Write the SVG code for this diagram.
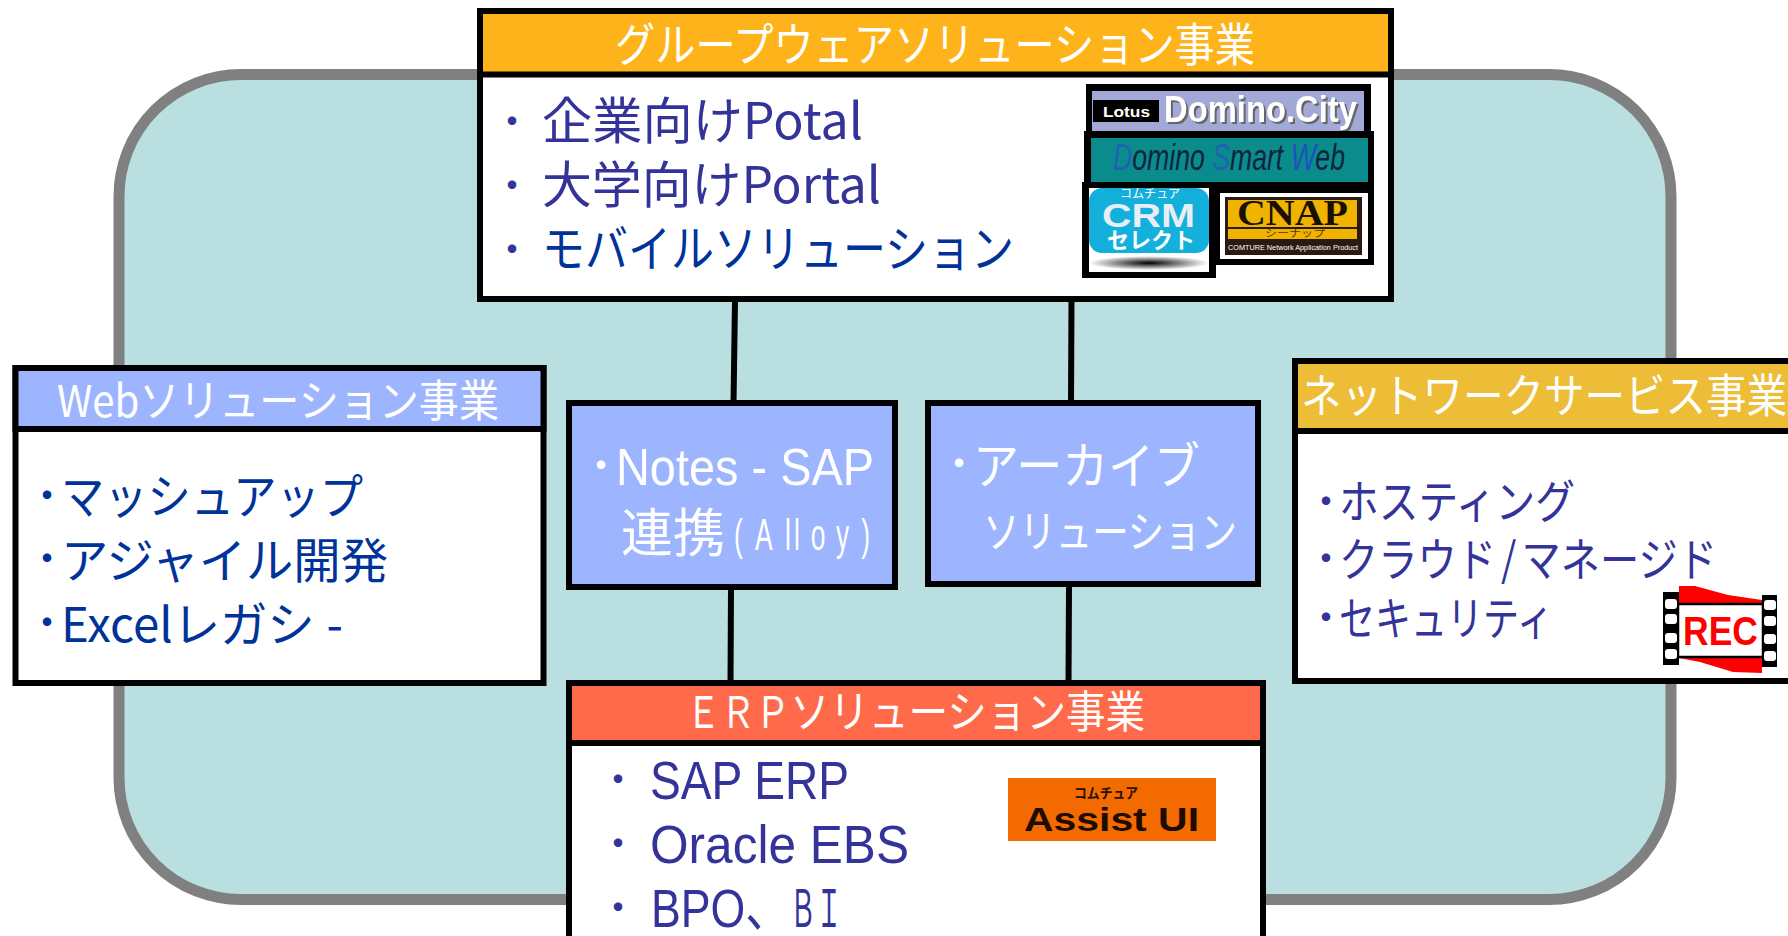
<svg xmlns="http://www.w3.org/2000/svg" width="1788" height="936" viewBox="0 0 1788 936">
<style>
text{font-family:"Noto Sans CJK JP","Liberation Sans",sans-serif}
.lat{font-family:"Liberation Sans","Noto Sans CJK JP",sans-serif}
.box{stroke:#000;stroke-width:6}
.body{fill:#fff}
.wt{fill:#fff}
.h{font-size:46px;fill:#fff}
.l1{font-size:50px;fill:#333399}
.l2{font-size:48px;fill:#003399}
.l3{font-size:46px;fill:#333399}
.bu{text-anchor:middle;font-size:40px}
.lb{font-weight:700}
.conn{stroke:#000;stroke-width:6;fill:none}
</style>
<defs>
<radialGradient id="sh"><stop offset="0" stop-color="#000"/><stop offset="1" stop-color="#fff"/></radialGradient>
</defs>
<rect id="background" x="119" y="74.500" width="1552" height="825" rx="122" ry="122" fill="#B9DFE1" stroke="#808080" stroke-width="11"/>
<g id="connectors">
<path class="conn" d="M735 300L733.500 404"/>
<path class="conn" d="M1071.500 300L1071 404"/>
<path class="conn" d="M731 588L730.500 684"/>
<path class="conn" d="M1069 585L1068.500 684"/>
</g>
<g id="groupware">
<rect class="box body" x="480" y="11" width="911" height="288"/>
<rect class="box" x="480" y="11" width="911" height="63.500" fill="#FFB31A"/>
<text class="h" x="615" y="61" textLength="640" lengthAdjust="spacingAndGlyphs">グループウェアソリューション事業</text>
<text class="bu l1" x="512" y="136" style="font-size:40px">・</text>
<text class="bu l1" x="512" y="200" style="font-size:40px">・</text>
<text class="bu l1" x="512" y="264" style="font-size:40px">・</text>
<text class="l1" x="542" y="139" textLength="321" lengthAdjust="spacingAndGlyphs">企業向けPotal</text>
<text class="l1" x="542" y="203" textLength="339" lengthAdjust="spacingAndGlyphs">大学向けPortal</text>
<text class="l1" x="542" y="267" textLength="472" lengthAdjust="spacingAndGlyphs" style="fill:#003399">モバイルソリューション</text>
<rect x="1086" y="84" width="285" height="50" fill="#000"/>
<rect x="1092" y="91" width="272" height="40" fill="#A3A9D6"/>
<rect x="1093" y="100" width="66" height="22" fill="#000"/>
<text class="lat lb wt" x="1103" y="117" font-size="15" textLength="47" lengthAdjust="spacingAndGlyphs">Lotus</text>
<text class="lat lb wt" x="1164" y="122" font-size="36" textLength="193" lengthAdjust="spacingAndGlyphs" style="filter:drop-shadow(2px 2px 0 #666)">Domino.City</text>
<rect x="1084" y="131" width="290" height="58" fill="#000"/>
<rect x="1091" y="138" width="277" height="44" fill="#0A8C8C"/>
<text class="lat" x="1113" y="170" font-size="36" font-style="italic" fill="#0E2440" textLength="232" lengthAdjust="spacingAndGlyphs"><tspan fill="#1F62B4">D</tspan>omino <tspan fill="#1F62B4">S</tspan>mart <tspan fill="#1F50C0">W</tspan>eb</text>
<rect x="1200" y="182" width="174" height="83" fill="#000"/>
<rect x="1220" y="193" width="148" height="66" fill="#fff"/>
<rect x="1225" y="197" width="137" height="58" fill="#2A1A10"/>
<rect x="1228" y="200" width="129" height="27" fill="#F0B400"/>
<rect x="1228" y="229" width="129" height="10" fill="#F0B400"/>
<text x="1237" y="225" font-size="36" font-weight="700" fill="#1A1000" textLength="111" lengthAdjust="spacingAndGlyphs" style="font-family:'Liberation Serif',serif">CNAP</text>
<text x="1265" y="237" font-size="10" fill="#5A3A00" textLength="60" lengthAdjust="spacingAndGlyphs">シーナップ</text>
<text class="lat wt" x="1228" y="250" font-size="8" textLength="130" lengthAdjust="spacingAndGlyphs">COMTURE Network Application Product</text>
<rect x="1082" y="182" width="134" height="96" fill="#000"/>
<rect x="1089" y="188" width="120" height="84" fill="#fff"/>
<rect x="1089" y="188" width="120" height="65" rx="13" fill="#14B0DC"/>
<text class="wt" x="1120" y="198" font-size="12" textLength="60" lengthAdjust="spacingAndGlyphs">コムチュア</text>
<text class="lat lb" x="1102" y="227" font-size="34" fill="#E8EEF4" textLength="93" lengthAdjust="spacingAndGlyphs">CRM</text>
<text class="lb wt" x="1107" y="248" font-size="22" textLength="88" lengthAdjust="spacingAndGlyphs">セレクト</text>
<ellipse cx="1149" cy="263" rx="60" ry="7" fill="url(#sh)"/>
</g>
<g id="web">
<rect class="box body" x="15.500" y="368" width="528" height="315"/>
<rect class="box" x="15.500" y="368" width="528" height="61" fill="#9DB5FF"/>
<text class="h" x="57" y="417" textLength="442" lengthAdjust="spacingAndGlyphs" style="font-size:44px">Webソリューション事業</text>
<text class="bu l2" x="47" y="510">・</text>
<text class="bu l2" x="47" y="573">・</text>
<text class="bu l2" x="47" y="637">・</text>
<text class="l2" x="61" y="514" textLength="302" lengthAdjust="spacingAndGlyphs">マッシュアップ</text>
<text class="l2" x="61" y="578" textLength="327" lengthAdjust="spacingAndGlyphs">アジャイル開発</text>
<text class="l2" x="61" y="642" textLength="282" lengthAdjust="spacingAndGlyphs">Excelレガシ<tspan dx="12">-</tspan></text>
</g>
<g id="notes-sap">
<rect class="box" x="569" y="403" width="326" height="184" fill="#9DB5FF"/>
<text class="bu wt" x="601" y="480">・</text>
<text class="lat wt" x="616" y="485" font-size="52" textLength="258" lengthAdjust="spacingAndGlyphs">Notes - SAP</text>
<text class="wt" x="621" y="552" font-size="52" textLength="104" lengthAdjust="spacingAndGlyphs">連携</text>
<text class="lat wt" transform="translate(734 550) scale(.6 1)" x="0 35 85 100 128 170 212" y="0" font-size="44">(Alloy)</text>
</g>
<g id="archive">
<rect class="box" x="928" y="403" width="330" height="181" fill="#9DB5FF"/>
<text class="bu wt" x="959" y="478">・</text>
<text class="wt" x="973" y="484" font-size="50" textLength="227" lengthAdjust="spacingAndGlyphs">アーカイブ</text>
<text class="wt" x="983" y="548" font-size="44" textLength="254" lengthAdjust="spacingAndGlyphs">ソリューション</text>
</g>
<g id="network">
<rect class="box body" x="1295" y="361" width="520" height="320"/>
<rect class="box" x="1295" y="361" width="520" height="70" fill="#EDBD38"/>
<text class="h" x="1301" y="412" textLength="486" lengthAdjust="spacingAndGlyphs">ネットワークサービス事業</text>
<text class="bu l3" x="1326" y="516">・</text>
<text class="bu l3" x="1326" y="573">・</text>
<text class="bu l3" x="1326" y="632">・</text>
<text class="l3" x="1339" y="518" textLength="236" lengthAdjust="spacingAndGlyphs">ホスティング</text>
<text class="l3" x="1339" y="576" textLength="378" lengthAdjust="spacingAndGlyphs">クラウド<tspan dx="6">/</tspan><tspan dx="6">マネージド</tspan></text>
<text class="l3" x="1339" y="635" textLength="214" lengthAdjust="spacingAndGlyphs">セキュリティ</text>
<path d="M1679 586H1695L1728 595L1762 600V606H1679Z" fill="#f00"/>
<path d="M1679 658L1700 662L1733 672L1762 673V657H1679Z" fill="#f00"/>
<rect x="1663" y="592" width="16" height="73" fill="#000"/>
<rect x="1762" y="595" width="15" height="72" fill="#000"/>
<rect x="1678" y="604" width="85" height="53" fill="#fff" stroke="#000" stroke-width="2.500"/>
<g fill="#fff">
<rect x="1665" y="599" width="12" height="10" rx="3"/><rect x="1665" y="614" width="12" height="10" rx="3"/><rect x="1665" y="633" width="12" height="10" rx="3"/><rect x="1665" y="649" width="12" height="10" rx="3"/>
<rect x="1764" y="600" width="12" height="10" rx="3"/><rect x="1764" y="616" width="12" height="10" rx="3"/><rect x="1764" y="634" width="12" height="10" rx="3"/><rect x="1764" y="651" width="12" height="10" rx="3"/>
</g>
<text class="lat lb" x="1683" y="645" font-size="40" fill="#f00" textLength="75" lengthAdjust="spacingAndGlyphs">REC</text>
</g>
<g id="erp">
<rect class="box body" x="569" y="683" width="694" height="290"/>
<rect class="box" x="569" y="683" width="694" height="60" fill="#FF6A4A"/>
<text class="h" x="686" y="728" textLength="104" lengthAdjust="spacingAndGlyphs" style="font-size:44px">ＥＲＰ</text>
<text class="h" x="790" y="728" textLength="355" lengthAdjust="spacingAndGlyphs" style="font-size:44px">ソリューション事業</text>
<text class="bu l3" x="618" y="794" style="font-size:40px">・</text>
<text class="bu l3" x="618" y="858" style="font-size:40px">・</text>
<text class="bu l3" x="618" y="922" style="font-size:40px">・</text>
<text class="lat l3" x="650" y="799" style="font-size:53px" textLength="199" lengthAdjust="spacingAndGlyphs">SAP ERP</text>
<text class="lat l3" x="650" y="863" style="font-size:53px" textLength="259" lengthAdjust="spacingAndGlyphs">Oracle EBS</text>
<text class="lat l3" x="651" y="927" style="font-size:53px" textLength="139" lengthAdjust="spacingAndGlyphs">BPO、</text>
<text class="l3" x="790" y="927" style="font-size:52px" textLength="52" lengthAdjust="spacingAndGlyphs">ＢＩ</text>
<rect x="1008" y="778" width="208" height="63" fill="#F26A00"/>
<text class="lb" x="1074" y="798" font-size="14" fill="#2A1000" textLength="64" lengthAdjust="spacingAndGlyphs">コムチュア</text>
<text class="lat lb" x="1024" y="831" font-size="34" fill="#1E0C00" textLength="175" lengthAdjust="spacingAndGlyphs">Assist UI</text>
</g>
</svg>
